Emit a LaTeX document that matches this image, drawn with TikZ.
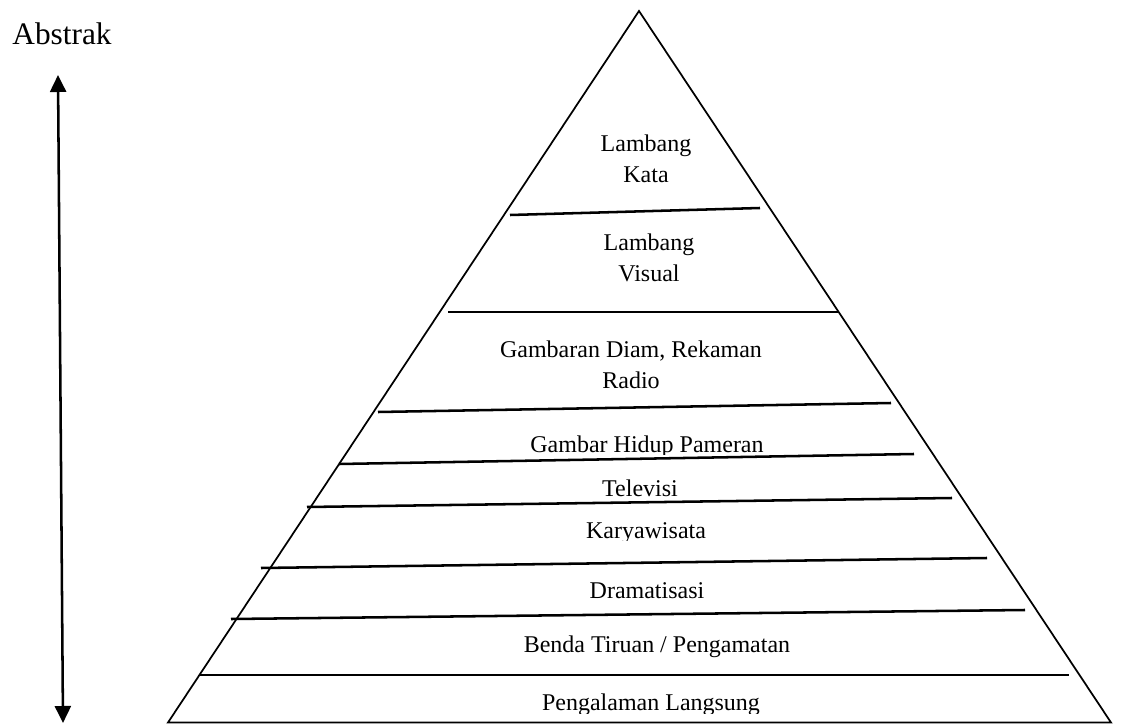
\documentclass[tikz,border=0pt]{standalone}
\usepackage{fontspec}
\setmainfont{Liberation Serif}
\usetikzlibrary{arrows.meta}
\begin{document}
\begin{tikzpicture}[x=0.75pt,y=-0.75pt,
  layertext/.style={font=\fontsize{18}{23}\selectfont, align=center, inner sep=0pt, anchor=base},
  side/.style={line width=1.3pt, line join=miter},
  divider/.style={line width=1.9pt},
  scalearrow/.style={line width=1.9pt, {Triangle[length=12.75pt,width=12pt]}-{Triangle[length=12.75pt,width=12pt]}}]
\useasboundingbox (0,0) rectangle (1122,724);
% pyramid outline
\coordinate (apex) at (639,11);
\coordinate (bl) at (168,722.5);
\coordinate (br) at (1111,722.5);
\draw[side] (bl) -- (apex) -- (br) -- cycle;
% dividers
\coordinate (d1l) at (510,215); \coordinate (d1r) at (760,208);
\coordinate (d2l) at (448,312); \coordinate (d2r) at (838,312);
\coordinate (d3l) at (378,412); \coordinate (d3r) at (891,403);
\coordinate (d4l) at (339,464); \coordinate (d4r) at (914,454);
\coordinate (d5l) at (307,507); \coordinate (d5r) at (952,498);
\coordinate (d6l) at (261,568); \coordinate (d6r) at (987,558);
\coordinate (d7l) at (231,619); \coordinate (d7r) at (1025,610);
\coordinate (d8l) at (200,675); \coordinate (d8r) at (1069,675);
\foreach \i in {1,...,8} \draw[divider] (d\i l) -- (d\i r);
% labels (two-line nodes: base = last baseline)
\node[layertext] (t1) at (646,182) {Lambang\\Kata};
\node[layertext] (t2) at (649,281) {Lambang\\Visual};
\node[layertext] (t3) at (631,388) {Gambaran Diam, Rekaman\\Radio};
\begin{scope}
  \clip (400,400) rectangle (900,454.5);
  \node[layertext] (t4) at (647,452) {Gambar Hidup Pameran};
\end{scope}
\node[layertext] (t5) at (640,496) {Televisi};
\begin{scope}
  \clip (400,505) rectangle (900,540.5);
  \node[layertext] (t6) at (646,538) {Karyawisata};
\end{scope}
\node[layertext] (t7) at (647,598) {Dramatisasi};
\node[layertext] (t8) at (657,652) {Benda Tiruan / Pengamatan};
\begin{scope}
  \clip (400,678) rectangle (900,713);
  \node[layertext] (t9) at (651,710) {Pengalaman Langsung};
\end{scope}
% side scale
\node[font=\fontsize{23.5}{26}\selectfont, inner sep=0pt, anchor=base] (abs) at (62,45) {Abstrak};
\coordinate (atop) at (58,75);
\coordinate (abot) at (63,723);
\draw[scalearrow] (atop) -- (abot);
\end{tikzpicture}
\end{document}
